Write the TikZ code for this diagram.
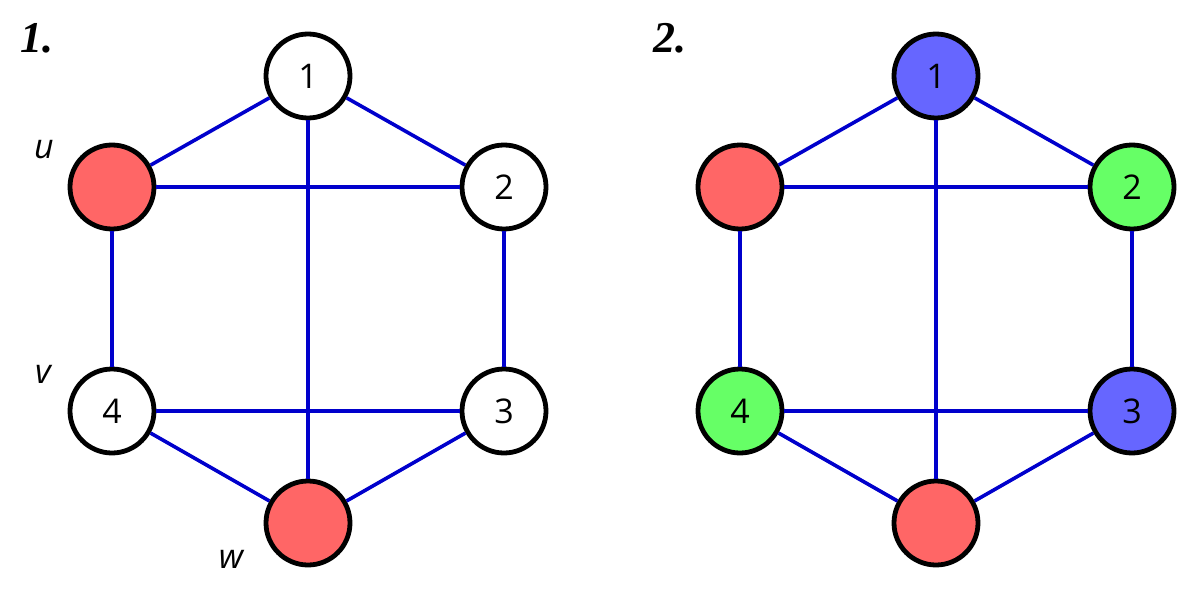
\documentclass[tikz,border=0pt]{standalone}
\usepackage{fontspec}
\setmainfont{Open Sans}
\newfontfamily\numfont{Liberation Serif}
\definecolor{vred}{HTML}{FF6666}
\definecolor{vgreen}{HTML}{66FF66}
\definecolor{vblue}{HTML}{6666FF}
\definecolor{eblue}{HTML}{0000CC}
\begin{document}
\begin{tikzpicture}
  [x=0.5pt,y=-0.5pt,
   every node/.style={circle,draw,line width=2.4pt,minimum size=42pt,inner sep=0pt,fill=white,
     font=\fontsize{17}{17}\selectfont},
   lbl/.style={draw=none,fill=none,rectangle,minimum size=0pt,font=\fontsize{17}{17}\selectfont\itshape},
   head/.style={draw=none,fill=none,rectangle,minimum size=0pt,font=\fontsize{22}{22}\numfont\bfseries\itshape}]
  \useasboundingbox (0,0) rectangle (1200,594);
  % graph 1
  \node[head] (t1) at (37,38) {1.};
  \node (a1) at (308,76) {1};
  \node[fill=vred] (au) at (112,187) {};
  \node (a2) at (504,187) {2};
  \node (a4) at (112,411) {4};
  \node (a3) at (504,411) {3};
  \node[fill=vred] (aw) at (308,523) {};
  \node[lbl] (lu) at (44,150) {u};
  \node[lbl] (lv) at (43,374) {v};
  \node[lbl] (lw) at (231,559) {w};
  % graph 2
  \node[head] (t2) at (670,38) {2.};
  \node[fill=vblue] (b1) at (936,76) {1};
  \node[fill=vred] (bu) at (740,187) {};
  \node[fill=vgreen] (b2) at (1132,187) {2};
  \node[fill=vgreen] (b4) at (740,411) {4};
  \node[fill=vblue] (b3) at (1132,411) {3};
  \node[fill=vred] (bw) at (936,523) {};
  \foreach \g in {a,b}
    \foreach \from/\to in {1/u,1/2,1/w,u/2,u/4,2/3,4/3,4/w,3/w}
    \draw[eblue,line width=1.8pt] (\g\from) -- (\g\to);
\end{tikzpicture}
\end{document}
